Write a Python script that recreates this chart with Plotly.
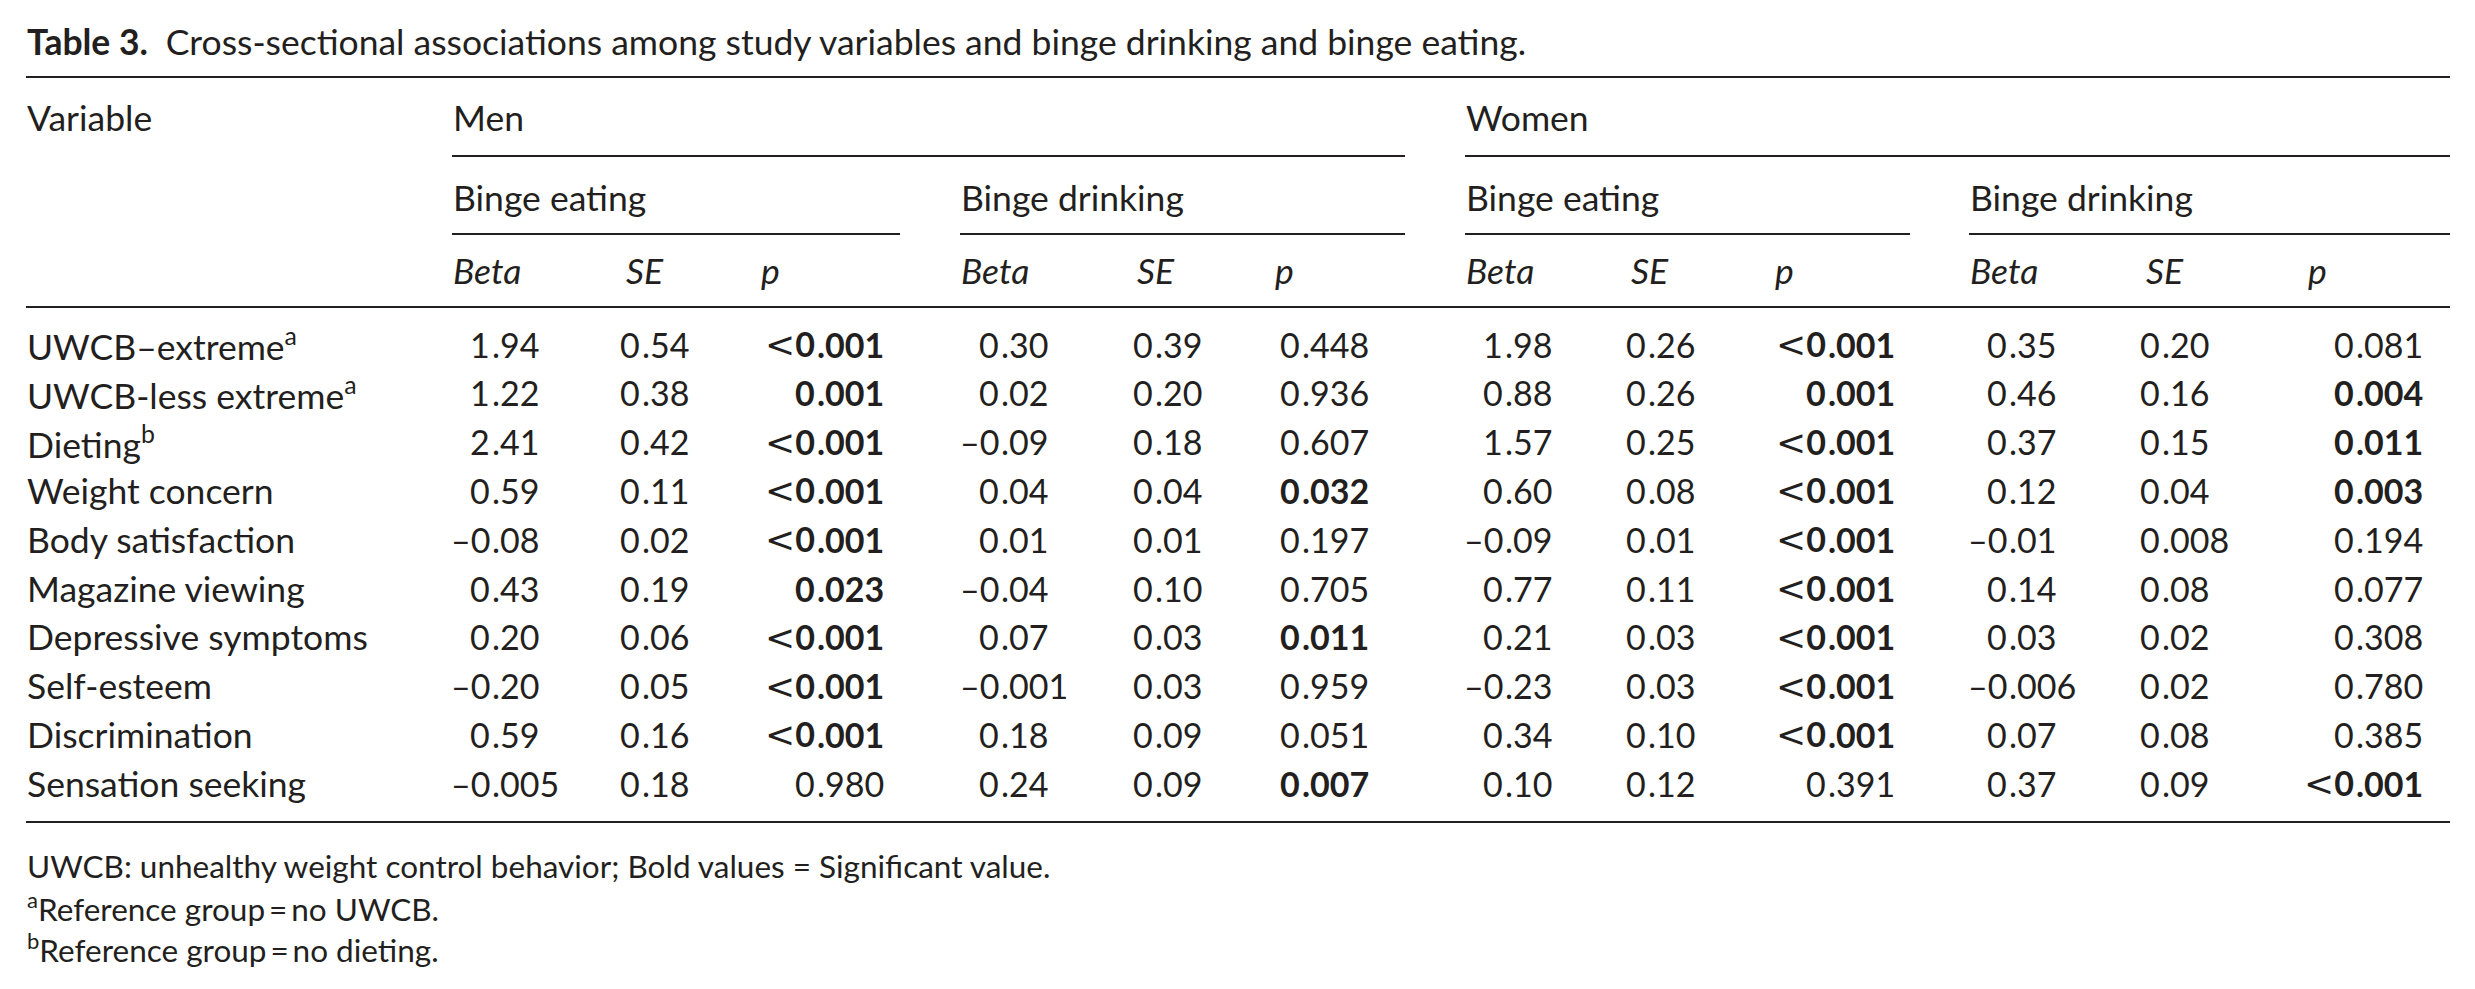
import plotly.graph_objects as go

# ---- table data -------------------------------------------------------------
variables = ["UWCB–extreme<sup>a</sup>", "UWCB-less extreme<sup>a</sup>", "Dieting<sup>b</sup>",
             "Weight concern", "Body satisfaction", "Magazine viewing", "Depressive symptoms",
             "Self-esteem", "Discrimination", "Sensation seeking"]

men_eat_beta = ["1.94", "1.22", "2.41", "0.59", "–0.08", "0.43", "0.20", "–0.20", "0.59", "–0.005"]
men_eat_se = ["0.54", "0.38", "0.42", "0.11", "0.02", "0.19", "0.06", "0.05", "0.16", "0.18"]
men_eat_p = ["<0.001", "0.001", "<0.001", "<0.001", "<0.001", "0.023", "<0.001", "<0.001", "<0.001", "0.980"]

men_drink_beta = ["0.30", "0.02", "–0.09", "0.04", "0.01", "–0.04", "0.07", "–0.001", "0.18", "0.24"]
men_drink_se = ["0.39", "0.20", "0.18", "0.04", "0.01", "0.10", "0.03", "0.03", "0.09", "0.09"]
men_drink_p = ["0.448", "0.936", "0.607", "0.032", "0.197", "0.705", "0.011", "0.959", "0.051", "0.007"]

women_eat_beta = ["1.98", "0.88", "1.57", "0.60", "–0.09", "0.77", "0.21", "–0.23", "0.34", "0.10"]
women_eat_se = ["0.26", "0.26", "0.25", "0.08", "0.01", "0.11", "0.03", "0.03", "0.10", "0.12"]
women_eat_p = ["<0.001", "0.001", "<0.001", "<0.001", "<0.001", "<0.001", "<0.001", "<0.001", "<0.001", "0.391"]

women_drink_beta = ["0.35", "0.46", "0.37", "0.12", "–0.01", "0.14", "0.03", "–0.006", "0.07", "0.37"]
women_drink_se = ["0.20", "0.16", "0.15", "0.04", "0.008", "0.08", "0.02", "0.02", "0.08", "0.09"]
women_drink_p = ["0.081", "0.004", "0.011", "0.003", "0.194", "0.077", "0.308", "0.780", "0.385", "<0.001"]

title_bold = "Table 3."
title_text = "Cross-sectional associations among study variables and binge drinking and binge eating."
footnotes = ["UWCB: unhealthy weight control behavior; Bold values = Significant value.",
             "<sup>a</sup>Reference group\u2009=\u2009no UWCB.",
             "<sup>b</sup>Reference group\u2009=\u2009no dieting."]

# ---- page geometry ----------------------------------------------------------
W, H = 2475, 989
OFF = 8            # default body margin of the html page
INK = "#231f20"
FONT = "Lato"
FS = 35.5          # labels and headers
FS_NUM = 34        # numbers
FS_NOTE = 31.5

fig = go.Figure()
fig.update_layout(
    width=W - 2 * OFF, height=H - 2 * OFF - 12,
    margin=dict(l=0, r=0, t=0, b=0),
    paper_bgcolor="white", plot_bgcolor="white", showlegend=False,
    xaxis=dict(range=[OFF, W - OFF], visible=False, fixedrange=True),
    yaxis=dict(range=[H - OFF - 12, OFF], visible=False, fixedrange=True),
)


def text(x, y, s, anchor="left", size=FS):
    fig.add_annotation(x=x, y=y, xref="x", yref="y", text=s, showarrow=False,
                       xanchor=anchor, yanchor="middle", borderpad=0,
                       font=dict(family=FONT, size=size, color=INK))


def rule(x0, x1, y, w=2):
    fig.add_shape(type="line", xref="x", yref="y", x0=x0, x1=x1, y0=y, y1=y,
                  line=dict(color=INK, width=w))


def is_significant(p):
    if p.startswith("<"):
        return True
    return float(p) < 0.05


# the "less than" sign is drawn larger than Lato's, as in the reference
LESS = "<span style=\"font-family:'DejaVu Sans';font-size:36px\">&lt;</span>"


def cell(xdec, y, s, bold=False):
    # decimal-aligned cell: integer part ends at xdec, fraction starts there
    i = s.index(".")
    head, tail = s[:i], s[i:]
    lead = ""
    if head.startswith("<"):
        lead, head = LESS, head[1:]
    if bold:
        head = "<b>" + head + "</b>"
        tail = "<b>" + tail + "</b>"
    text(xdec, y, lead + head, anchor="right", size=FS_NUM)
    text(xdec, y, tail, anchor="left", size=FS_NUM)


# ---- title and rules ----------------------------------------------------------
X0, X1 = 26, 2450
Y_TITLE, Y_TOP = 41, 77
Y_H1, Y_R1 = 117, 156
Y_H2, Y_R2 = 197, 234
Y_H3, Y_R3 = 270, 307
ROW0, ROWSTEP = 344, 48.8
Y_BOTTOM = 822

text(X0, Y_TITLE, "<b>" + title_bold + "</b>\u2002" + title_text)
rule(X0, X1, Y_TOP)
rule(X0, X1, Y_R3)
rule(X0, X1, Y_BOTTOM)

text(X0, Y_H1, "Variable")

groups = [
    # (sex, outcome, left, right, beta, se, p, xdec beta, xdec se, xdec p, header x)
    ("Men", "Binge eating", 452, 900, men_eat_beta, men_eat_se, men_eat_p, 491, 641, 816, (452, 625, 760)),
    ("", "Binge drinking", 960, 1405, men_drink_beta, men_drink_se, men_drink_p, 1000, 1154, 1301, (960, 1136, 1274)),
    ("Women", "Binge eating", 1465, 1910, women_eat_beta, women_eat_se, women_eat_p, 1504, 1647, 1827, (1465, 1630, 1774)),
    ("", "Binge drinking", 1969, X1, women_drink_beta, women_drink_se, women_drink_p, 2008, 2161, 2355, (1969, 2145, 2307)),
]

rule(452, 1405, Y_R1)
rule(1465, X1, Y_R1)

for sex, outcome, left, right, beta, se, pv, xb, xs, xp, hx in groups:
    if sex:
        text(left, Y_H1, sex)
    text(left, Y_H2, outcome)
    rule(left, right, Y_R2)
    for hxi, lab in zip(hx, ["Beta", "SE", "p"]):
        text(hxi, Y_H3, "<i>" + lab + "</i>")
    for r in range(len(variables)):
        y = ROW0 + r * ROWSTEP
        cell(xb, y, beta[r])
        cell(xs, y, se[r])
        cell(xp, y, pv[r], bold=is_significant(pv[r]))

for r, v in enumerate(variables):
    text(X0, ROW0 + r * ROWSTEP, v)

for k, note in enumerate(footnotes):
    text(X0, 866 + k * 41, note, size=FS_NOTE)

fig.write_html("out.html")
